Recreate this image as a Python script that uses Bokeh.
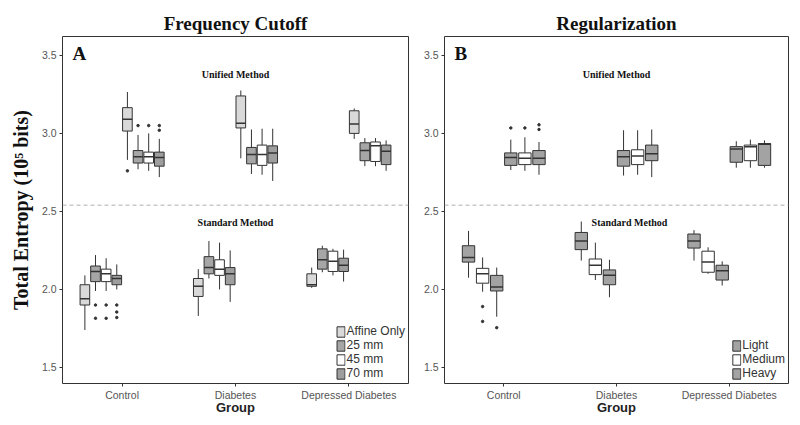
from bokeh.plotting import figure
from bokeh.models import (FactorRange, Range1d, Span, Label, Legend, LegendItem,
                          FixedTicker, ColumnDataSource, NumeralTickFormatter)
from bokeh.transform import dodge
from bokeh.layouts import row
from bokeh.core.properties import value
from bokeh.embed import file_html
from bokeh.resources import INLINE

GROUPS = ["Control", "Diabetes", "Depressed Diabetes"]
Y_TICKS = [1.5, 2.0, 2.5, 3.0, 3.5]
DIVIDER = 2.54

# (lower whisker, Q1, median, Q3, upper whisker) for Control, Diabetes, Depressed Diabetes
# Panel A - Frequency Cutoff, Standard Method
A_STD_AFFINE = [(1.74, 1.90, 1.94, 2.03, 2.09), (1.83, 1.955, 2.02, 2.07, 2.13), (2.01, 2.02, 2.03, 2.10, 2.14)]
A_STD_25 = [(1.99, 2.05, 2.115, 2.15, 2.22), (2.07, 2.10, 2.14, 2.21, 2.31), (2.11, 2.13, 2.19, 2.26, 2.28)]
A_STD_45 = [(1.99, 2.05, 2.10, 2.13, 2.20), (2.00, 2.09, 2.13, 2.19, 2.30), (2.09, 2.115, 2.18, 2.245, 2.26)]
A_STD_70 = [(2.00, 2.03, 2.07, 2.09, 2.16), (1.92, 2.03, 2.10, 2.14, 2.25), (2.05, 2.115, 2.155, 2.20, 2.255)]
# Panel A - Unified Method
A_UNI_AFFINE = [(2.83, 3.015, 3.09, 3.165, 3.265), (2.84, 3.035, 3.065, 3.24, 3.275), (2.965, 3.0, 3.06, 3.145, 3.16)]
A_UNI_25 = [(2.77, 2.81, 2.85, 2.89, 2.99), (2.74, 2.805, 2.865, 2.91, 3.025), (2.79, 2.825, 2.89, 2.94, 2.97)]
A_UNI_45 = [(2.76, 2.81, 2.85, 2.88, 3.00), (2.735, 2.795, 2.865, 2.925, 3.03), (2.79, 2.82, 2.92, 2.945, 2.97)]
A_UNI_70 = [(2.72, 2.79, 2.845, 2.88, 2.965), (2.695, 2.81, 2.875, 2.92, 3.03), (2.76, 2.80, 2.885, 2.925, 2.955)]
# Panel A outliers (group, value)
A_STD_25_OUT = [("Control", 1.90), ("Control", 1.815)]
A_STD_45_OUT = [("Control", 1.90), ("Control", 1.815)]
A_STD_70_OUT = [("Control", 1.90), ("Control", 1.855), ("Control", 1.82)]
A_UNI_AFFINE_OUT = [("Control", 2.76)]
A_UNI_25_OUT = [("Control", 3.05)]
A_UNI_45_OUT = [("Control", 3.05)]
A_UNI_70_OUT = [("Control", 3.05), ("Control", 3.02)]

# Panel B - Regularization, Standard Method
B_STD_LIGHT = [(2.075, 2.175, 2.205, 2.28, 2.375), (2.185, 2.255, 2.31, 2.365, 2.435), (2.185, 2.265, 2.31, 2.355, 2.38)]
B_STD_MEDIUM = [(1.985, 2.04, 2.10, 2.135, 2.205), (2.06, 2.095, 2.155, 2.195, 2.30), (2.10, 2.11, 2.175, 2.245, 2.27)]
B_STD_HEAVY = [(1.825, 1.99, 2.015, 2.09, 2.14), (1.95, 2.03, 2.09, 2.125, 2.19), (2.025, 2.06, 2.12, 2.155, 2.18)]
# Panel B - Unified Method
B_UNI_LIGHT = [(2.765, 2.795, 2.845, 2.875, 2.96), (2.73, 2.79, 2.85, 2.89, 3.02), (2.78, 2.815, 2.90, 2.915, 2.95)]
B_UNI_MEDIUM = [(2.76, 2.80, 2.84, 2.875, 2.975), (2.735, 2.80, 2.855, 2.895, 3.02), (2.78, 2.825, 2.915, 2.925, 2.96)]
B_UNI_HEAVY = [(2.735, 2.80, 2.84, 2.89, 2.945), (2.72, 2.825, 2.87, 2.925, 3.025), (2.78, 2.795, 2.93, 2.935, 2.955)]
B_STD_MEDIUM_OUT = [("Control", 1.89), ("Control", 1.795)]
B_STD_HEAVY_OUT = [("Control", 1.755)]
B_UNI_LIGHT_OUT = [("Control", 3.035)]
B_UNI_MEDIUM_OUT = [("Control", 3.035)]
B_UNI_HEAVY_OUT = [("Control", 3.055), ("Control", 3.025)]

A_LABELS = ["Affine Only", "25 mm", "45 mm", "70 mm"]
B_LABELS = ["Light", "Medium", "Heavy"]

EDGE = "#333333"
A_FILLS = ["#d9d9d9", "#a6a6a6", "#ffffff", "#9e9e9e"]
B_FILLS = ["#a3a3a3", "#ffffff", "#a3a3a3"]

SERIF = "Liberation Serif"
SANS = "Liberation Sans"


def make_panel(title, width, left, right, ylabel):
    p = figure(x_range=FactorRange(factors=GROUPS, range_padding=0.017),
               y_range=Range1d(1.397, 3.621), width=width, height=417,
               min_border_left=left, min_border_right=right,
               min_border_top=36, min_border_bottom=34,
               output_backend="svg", toolbar_location=None, title=title)
    p.title.text_font = SERIF
    p.title.text_font_size = "19px"
    p.title.text_font_style = "bold"
    p.title.text_color = "#111111"
    p.title.align = "center"
    p.title.vertical_align = "middle"
    p.title.standoff = 4
    p.xgrid.visible = False
    p.ygrid.visible = False
    p.outline_line_color = EDGE
    p.outline_line_width = 1
    p.background_fill_color = "white"
    p.border_fill_color = "white"
    for ax in (p.xaxis[0], p.yaxis[0]):
        ax.axis_line_color = None
        ax.major_tick_line_color = EDGE
        ax.major_tick_out = 3
        ax.major_tick_in = 0
        ax.minor_tick_line_color = None
        ax.major_label_text_font = SANS
        ax.major_label_text_font_size = "10.5px"
        ax.major_label_text_color = "#555555"
        ax.major_label_standoff = 3
    p.xaxis.major_label_standoff = 2
    p.yaxis.ticker = FixedTicker(ticks=Y_TICKS)
    p.yaxis.formatter = NumeralTickFormatter(format="0.0")
    p.xaxis.axis_label = "Group"
    p.xaxis.axis_label_text_font = SANS
    p.xaxis.axis_label_text_font_style = "bold"
    p.xaxis.axis_label_text_font_size = "13px"
    p.xaxis.axis_label_text_color = "#222222"
    p.xaxis.axis_label_standoff = -4
    if ylabel:
        p.yaxis.axis_label = ylabel
        p.yaxis.axis_label_text_font = SERIF
        p.yaxis.axis_label_text_font_style = "bold"
        p.yaxis.axis_label_text_font_size = "20px"
        p.yaxis.axis_label_text_color = "#111111"
        p.yaxis.axis_label_standoff = 7
    p.add_layout(Span(location=DIVIDER, dimension="width", line_color="#b0b0b0",
                      line_dash="4 3", line_width=1))
    return p


def draw_series(p, stats, outliers, offset, width, fill):
    src = ColumnDataSource(dict(group=GROUPS,
                                lo=[s[0] for s in stats], q1=[s[1] for s in stats],
                                med=[s[2] for s in stats], q3=[s[3] for s in stats],
                                hi=[s[4] for s in stats]))
    x = dodge("group", offset, range=p.x_range)
    p.segment(x0=x, y0="lo", x1=x, y1="q1", source=src, line_color=EDGE, line_width=1)
    p.segment(x0=x, y0="q3", x1=x, y1="hi", source=src, line_color=EDGE, line_width=1)
    r = p.vbar(x=x, width=width, bottom="q1", top="q3", source=src,
               fill_color=fill, line_color=EDGE, line_width=1)
    p.segment(x0=dodge("group", offset - width / 2, range=p.x_range), y0="med",
              x1=dodge("group", offset + width / 2, range=p.x_range), y1="med",
              source=src, line_color=EDGE, line_width=1.5)
    if outliers:
        osrc = ColumnDataSource(dict(group=[o[0] for o in outliers], v=[o[1] for o in outliers]))
        p.scatter(x=dodge("group", offset, range=p.x_range), y="v", source=osrc,
                  size=2.5, color=EDGE)
    return r


def add_texts(p, letter, std_dx):
    p.add_layout(Label(x=10, x_units="screen", y=3.51, text=letter, text_font=SERIF,
                       text_font_style="bold", text_font_size="19px", text_baseline="middle",
                       text_color="#111111"))
    p.text(x=["Diabetes"], y=[3.38], text=["Unified Method"], text_font=value(SERIF),
           text_font_style="bold", text_font_size="10px", text_align="center",
           text_baseline="middle", text_color="#111111")
    p.text(x=["Diabetes"], y=[2.43], text=["Standard Method"], text_font=value(SERIF),
           text_font_style="bold", text_font_size="10px", text_align="center",
           text_baseline="middle", text_color="#111111", x_offset=std_dx)


def add_legend(p, labels, renderers):
    leg = Legend(items=[LegendItem(label=l, renderers=[r]) for l, r in zip(labels, renderers)],
                 location="bottom_right", border_line_color=None, background_fill_alpha=0,
                 label_text_font=SANS, label_text_font_size="12px", label_text_color="#333333",
                 glyph_width=10, glyph_height=13, label_height=13, label_standoff=1,
                 spacing=0, padding=1, margin=3)
    p.add_layout(leg)


# Panel A
pa = make_panel("Frequency Cutoff", 420, 62, 12, "Total Entropy (10\u2075 bits)")
slot_a = 0.75 / 8
box_a = 0.085
a_std = [A_STD_AFFINE, A_STD_25, A_STD_45, A_STD_70]
a_std_out = [[], A_STD_25_OUT, A_STD_45_OUT, A_STD_70_OUT]
a_uni = [A_UNI_AFFINE, A_UNI_25, A_UNI_45, A_UNI_70]
a_uni_out = [A_UNI_AFFINE_OUT, A_UNI_25_OUT, A_UNI_45_OUT, A_UNI_70_OUT]
a_rends = []
for i in range(4):
    draw_series(pa, a_std[i], a_std_out[i], -0.375 + slot_a * (i + 0.5), box_a, A_FILLS[i])
    a_rends.append(draw_series(pa, a_uni[i], a_uni_out[i], -0.375 + slot_a * (i + 4.5), box_a, A_FILLS[i]))
add_texts(pa, "A", 0)
add_legend(pa, A_LABELS, a_rends)

# Panel B
pb = make_panel("Regularization", 372, 22, 4, None)
slot_b = 0.75 / 6
box_b = 0.11
b_std = [B_STD_LIGHT, B_STD_MEDIUM, B_STD_HEAVY]
b_std_out = [[], B_STD_MEDIUM_OUT, B_STD_HEAVY_OUT]
b_uni = [B_UNI_LIGHT, B_UNI_MEDIUM, B_UNI_HEAVY]
b_uni_out = [B_UNI_LIGHT_OUT, B_UNI_MEDIUM_OUT, B_UNI_HEAVY_OUT]
b_rends = []
for i in range(3):
    draw_series(pb, b_std[i], b_std_out[i], -0.375 + slot_b * (i + 0.5), box_b, B_FILLS[i])
    b_rends.append(draw_series(pb, b_uni[i], b_uni_out[i], -0.375 + slot_b * (i + 3.5), box_b, B_FILLS[i]))
add_texts(pb, "B", 13)
add_legend(pb, B_LABELS, b_rends)

layout = row(pa, pb)
open("out.html", "w").write(file_html(layout, INLINE))
